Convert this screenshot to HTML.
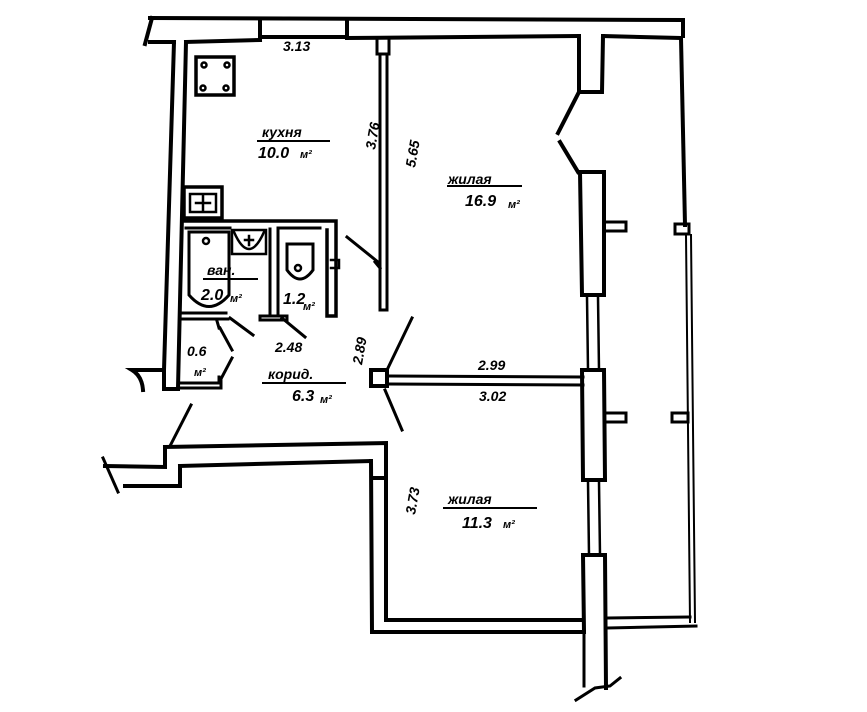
<!DOCTYPE html>
<html><head><meta charset="utf-8"><style>
html,body{margin:0;padding:0;background:#fff;}
svg{display:block}
text{font-family:"Liberation Sans",sans-serif;font-style:italic;font-weight:bold;fill:#000;}
</style></head><body>
<svg width="867" height="712" viewBox="0 0 867 712" xmlns="http://www.w3.org/2000/svg">
<g fill="none" stroke="#000" stroke-width="4" stroke-linecap="square">
<!-- top outer wall -->
<path d="M150,18 L683,20 L683,36"/>
<path d="M145,44 L152,18"/>
<path d="M174,42 L150,42"/>
<!-- inner top lines -->
<path d="M186,42 L260,40 M347,38 L579,36 M603,36 L679,38"/>
<path d="M260,20 L260,40 M347,20 L347,38 M262,37 L345,37"/>
<!-- left wall -->
<path d="M174,42 L164,370 L132,370 Q142,376 143,390 M186,42 L178,388"/>
<path d="M164,370 L164,389 L178,389"/>
<!-- right outer thick wall -->
<path d="M681,38 L685,225"/>
<path d="M686,235 L690,622 M691,235 L695,622" stroke-width="2"/>
<rect x="675" y="224" width="14" height="10" stroke-width="3"/>
<!-- window pier column -->
<path d="M579,36 L579,92 L602,92 L603,36"/>
<path d="M579,92 L558,133 M560,142 L578,172"/>
<path d="M580,172 L604,172 M580,172 L582,295 M604,172 L604,295 M582,295 L604,295"/>
<path d="M587,297 L588,370 M598,297 L599,370" stroke-width="2.5"/>
<path d="M582,370 L604,370 L605,480 L583,480 L582,370"/>
<path d="M588,482 L589,555 M599,482 L600,555" stroke-width="2.5"/>
<path d="M583,555 L605,555 L606,688 M583,555 L584,632"/>
<rect x="604" y="222" width="22" height="9" stroke-width="3"/>
<rect x="604" y="413" width="22" height="9" stroke-width="3"/>
<rect x="672" y="413" width="16" height="9" stroke-width="3"/>
<path d="M608,618 L690,617 M608,628 L696,626" stroke-width="3"/>
<path d="M584,632 L584,686 M576,700 L595,688 L610,686 L620,678" stroke-width="3"/>
<!-- partition kitchen/room -->
<rect x="377" y="38" width="12" height="16" stroke-width="3"/>
<path d="M380,54 L380,310 L387,310 L387,54" stroke-width="3"/>
<path d="M347,237 L378,262 M375,262 L380,268" stroke-width="3"/>
<!-- column and partition between rooms -->
<rect x="371" y="370" width="16" height="16" stroke-width="4"/>
<path d="M389,376 L583,377 M389,384 L583,385" stroke-width="3"/>
<path d="M387,370 L412,318 M385,390 L402,430" stroke-width="3"/>
<!-- corridor bottom wall -->
<path d="M165,447 L386,443 L386,466 M180,466 L370,461"/>
<path d="M165,447 L165,467 L105,466 M180,466 L180,486 L125,486"/>
<path d="M103,458 L118,492" stroke-width="3"/>
<path d="M170,446 L191,405" stroke-width="3"/>
<!-- room 11.3 walls -->
<path d="M371,461 L372,632 L584,632 M386,466 L386,620 L583,620 M372,478 L386,478"/>
<!-- kitchen stove -->
<rect x="196" y="57" width="38" height="38" stroke-width="3.5"/>
<g stroke-width="2.5"><circle cx="204" cy="65" r="2.5"/><circle cx="227" cy="65" r="2.5"/><circle cx="203" cy="88" r="2.5"/><circle cx="226" cy="88" r="2.5"/></g>
<!-- kitchen sink -->
<rect x="184" y="187" width="38" height="31" stroke-width="3.5"/>
<rect x="190" y="194" width="26" height="18" stroke-width="2.5"/>
<path d="M203,196 L203,210 M196,203 L210,203" stroke-width="2.5"/>
<!-- bathroom block -->
<path d="M182,221 L336,221 L336,316 L327,316 L327,230" stroke-width="3.5"/>
<path d="M186,228 L230,228 M278,228 L320,228" stroke-width="3"/>
<path d="M270,229 L270,316 M278,229 L278,316" stroke-width="3"/>
<path d="M260,316 L287,316 L287,320 L260,320 Z" stroke-width="3"/>
<path d="M181,313 L226,313 M180,319 L228,319" stroke-width="3"/>
<path d="M331,260 L339,260 L339,268 L331,268" stroke-width="2.5"/>
<!-- bathtub -->
<path d="M189,232 L229,232 L229,295 Q209,318 189,295 Z" stroke-width="3"/>
<circle cx="206" cy="241" r="3" stroke-width="2.5"/>
<!-- washbasin -->
<path d="M232,230 L266,230 L266,254 L232,254 Z" stroke-width="2.5"/>
<path d="M234,232 Q249,266 264,232" stroke-width="2.5"/>
<path d="M245,240 L253,240 M249,236 L249,245" stroke-width="2.5"/>
<!-- toilet -->
<path d="M287,244 L313,244 L313,270 Q300,288 287,270 Z" stroke-width="3"/>
<circle cx="298" cy="268" r="3" stroke-width="2.5"/>
<!-- doors -->
<path d="M230,318 L253,335" stroke-width="3"/>
<path d="M282,318 L305,337" stroke-width="3"/>
<!-- closet 0.6 -->
<path d="M217,321 L219,328 M220,328 L232,350" stroke-width="3"/>
<path d="M178,383 L219,383 L219,377 M178,388 L221,388 L221,378" stroke-width="3"/>
<path d="M222,377 L232,358" stroke-width="3"/>
</g>
<!-- labels -->
<g font-size="16">
<text x="283" y="51" font-size="14">3.13</text>
<text x="262" y="137" font-size="14">кухня</text>
<path d="M257,141 L330,141" stroke="#000" stroke-width="2"/>
<text x="258" y="158" font-size="16">10.0</text><text x="300" y="158" font-size="11">м²</text>
<text x="0" y="0" font-size="14" transform="translate(375,150) rotate(-80)">3.76</text>
<text x="0" y="0" font-size="14" transform="translate(415,168) rotate(-80)">5.65</text>
<text x="448" y="184" font-size="14">жилая</text>
<path d="M447,186 L522,186" stroke="#000" stroke-width="2"/>
<text x="465" y="206" font-size="16">16.9</text><text x="508" y="208" font-size="11">м²</text>
<text x="207" y="275" font-size="14">ван.</text>
<path d="M203,279 L258,279" stroke="#000" stroke-width="2"/>
<text x="201" y="300" font-size="16">2.0</text><text x="230" y="302" font-size="11">м²</text>
<text x="283" y="304" font-size="16">1.2</text><text x="303" y="310" font-size="11">м²</text>
<text x="275" y="352" font-size="14">2.48</text>
<text x="0" y="0" font-size="14" transform="translate(362,365) rotate(-80)">2.89</text>
<text x="187" y="356" font-size="14">0.6</text>
<text x="194" y="376" font-size="11">м²</text>
<text x="268" y="379" font-size="14">корид.</text>
<path d="M262,383 L346,383" stroke="#000" stroke-width="2"/>
<text x="292" y="401" font-size="16">6.3</text><text x="320" y="403" font-size="11">м²</text>
<text x="478" y="370" font-size="14">2.99</text>
<text x="479" y="401" font-size="14">3.02</text>
<text x="0" y="0" font-size="14" transform="translate(415,515) rotate(-80)">3.73</text>
<text x="448" y="504" font-size="14">жилая</text>
<path d="M443,508 L537,508" stroke="#000" stroke-width="2"/>
<text x="462" y="528" font-size="16">11.3</text><text x="503" y="528" font-size="11">м²</text>
</g>
</svg>
</body></html>
